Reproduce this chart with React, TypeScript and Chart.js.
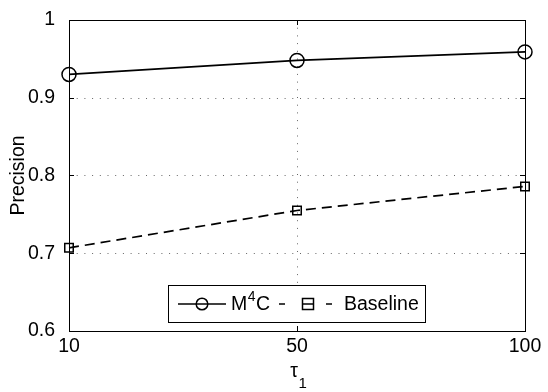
import React, { useEffect, useRef } from "react";
import { Chart, registerables } from "chart.js";
Chart.register(...registerables);

const categories = ["10", "50", "100"];
const m4cValues = [0.930, 0.948, 0.959];
const baselineValues = [0.707, 0.755, 0.786];
const yTicks = [0.6, 0.7, 0.8, 0.9, 1];
const seriesLabels = ["M\u2074C", "Baseline"];
const xTitleMain = "\u03c4";
const xTitleSub = "1";
const yTitle = "Precision";

const FONT = "'Liberation Sans', Arial, sans-serif";
const FS = 19.5;

// draw text where the superscript "⁴" is raised and smaller
function drawRich(ctx: any, text: string, x: number, y: number) {
  let cx = x;
  for (const ch of text) {
    if (ch === "\u2074") {
      ctx.font = "14px " + FONT;
      ctx.fillText("4", cx + 0.5, y - 8);
      cx += ctx.measureText("4").width + 1;
    } else {
      ctx.font = FS + "px " + FONT;
      ctx.fillText(ch, cx, y);
      cx += ctx.measureText(ch).width;
    }
  }
}

const frame = {
  id: "frame",
  beforeDatasetsDraw(chart: any) {
    const { ctx, chartArea: a, scales } = chart;
    const x = scales.x, y = scales.y;
    ctx.save();
    // dotted grid
    ctx.strokeStyle = "#666";
    ctx.lineWidth = 1;
    ctx.setLineDash([1, 6.7]);
    yTicks.forEach((v) => {
      if (v === 0.6 || v === 1) return;
      const py = Math.round(y.getPixelForValue(v)) + 0.5;
      ctx.beginPath(); ctx.moveTo(a.left, py); ctx.lineTo(a.right, py); ctx.stroke();
    });
    categories.forEach((c, i) => {
      if (i === 0 || i === categories.length - 1) return;
      const px = Math.round(x.getPixelForValue(i)) + 0.5;
      ctx.beginPath(); ctx.moveTo(px, a.top); ctx.lineTo(px, a.bottom); ctx.stroke();
    });
    ctx.setLineDash([]);
    ctx.strokeStyle = "#000";
    ctx.lineWidth = 1;
    // ticks inward
    yTicks.forEach((v) => {
      const py = Math.round(y.getPixelForValue(v)) + 0.5;
      ctx.beginPath(); ctx.moveTo(a.left, py); ctx.lineTo(a.left + 5, py); ctx.stroke();
      ctx.beginPath(); ctx.moveTo(a.right, py); ctx.lineTo(a.right - 5, py); ctx.stroke();
    });
    categories.forEach((c, i) => {
      const px = Math.round(x.getPixelForValue(i)) + 0.5;
      ctx.beginPath(); ctx.moveTo(px, a.bottom); ctx.lineTo(px, a.bottom - 5); ctx.stroke();
      ctx.beginPath(); ctx.moveTo(px, a.top); ctx.lineTo(px, a.top + 5); ctx.stroke();
    });
    // box
    ctx.strokeRect(Math.round(a.left) + 0.5, Math.round(a.top) + 0.5, Math.round(a.right - a.left), Math.round(a.bottom - a.top));
    // x title τ with subscript 1
    const mid = (a.left + a.right) / 2;
    ctx.fillStyle = "#000";
    ctx.textBaseline = "alphabetic";
    ctx.textAlign = "left";
    ctx.font = FS + "px " + FONT;
    const tw = ctx.measureText(xTitleMain).width;
    ctx.fillText(xTitleMain, mid - tw + 1, 377);
    ctx.font = "15px " + FONT;
    ctx.fillText(xTitleSub, mid + 1.5, 388);
    ctx.restore();
  },
  afterDatasetsDraw(chart: any) {
    const { ctx } = chart;
    const ds = chart.data.datasets;
    ctx.save();
    const bx = 168.5, by = 285.5, bw = 257, bh = 37;
    ctx.fillStyle = "#fff";
    ctx.fillRect(bx, by, bw, bh);
    ctx.strokeStyle = "#000";
    ctx.lineWidth = 1;
    ctx.strokeRect(bx, by, bw, bh);
    const cy = 304;
    ctx.fillStyle = "#000";
    ctx.textBaseline = "middle";
    ctx.textAlign = "left";
    // series 1
    ctx.lineWidth = 1.5;
    ctx.setLineDash([]);
    ctx.beginPath(); ctx.moveTo(178, cy); ctx.lineTo(226, cy); ctx.stroke();
    ctx.beginPath(); ctx.arc(202, cy, 5.8, 0, Math.PI * 2); ctx.stroke();
    drawRich(ctx, ds[0].label, 231, cy + 1);
    // series 2
    ctx.beginPath(); ctx.moveTo(279, cy); ctx.lineTo(285, cy); ctx.stroke();
    ctx.beginPath(); ctx.moveTo(326, cy); ctx.lineTo(332, cy); ctx.stroke();
    ctx.strokeRect(302.5, cy - 5.5, 11, 11);
    ctx.beginPath(); ctx.moveTo(302.5, cy); ctx.lineTo(313.5, cy); ctx.stroke();
    ctx.font = FS + "px " + FONT;
    ctx.fillText(ds[1].label, 344, cy + 1);
    ctx.restore();
  },
};

export default function App() {
  const ref = useRef<HTMLCanvasElement>(null);
  useEffect(() => {
    document.body.style.margin = "0";
    const chart = new Chart(ref.current!, {
      type: "line",
      data: {
        labels: categories,
        datasets: [
          {
            label: seriesLabels[0],
            data: m4cValues,
            borderColor: "#000",
            backgroundColor: "rgba(0,0,0,0)",
            borderWidth: 1.7,
            pointStyle: "circle",
            pointRadius: 7,
            pointBorderWidth: 1.5,
            pointBorderColor: "#000",
            pointBackgroundColor: "rgba(0,0,0,0)",
          },
          {
            label: seriesLabels[1],
            data: baselineValues,
            borderColor: "#000",
            backgroundColor: "rgba(0,0,0,0)",
            borderWidth: 1.7,
            borderDash: [10, 6],
            pointStyle: "rect",
            pointRadius: 6,
            pointBorderWidth: 1.5,
            pointBorderColor: "#000",
            pointBackgroundColor: "rgba(0,0,0,0)",
          },
        ],
      },
      options: {
        animation: false,
        responsive: false,
        layout: { padding: { top: 20, right: 23, left: 0, bottom: 0 } },
        plugins: { legend: { display: false }, tooltip: { enabled: false } },
        scales: {
          x: {
            type: "category",
            offset: false,
            grid: { display: false },
            border: { display: false },
            ticks: { color: "#000", font: { family: FONT, size: FS }, padding: -4, maxRotation: 0, autoSkip: false },
            afterFit: (s: any) => { s.height = 61; },
          },
          y: {
            min: 0.6,
            max: 1,
            grid: { display: false },
            border: { display: false },
            afterBuildTicks: (s: any) => { s.ticks = yTicks.map((v) => ({ value: v })); },
            ticks: {
              color: "#000",
              font: { family: FONT, size: FS },
              padding: 6,
              callback: (v: any) => String(v),
            },
            title: { display: true, text: yTitle, color: "#000", font: { family: FONT, size: FS }, padding: { top: 7, bottom: 3 } },
            afterFit: (s: any) => { s.width = 69; },
          },
        },
      },
      plugins: [frame],
    });
    return () => chart.destroy();
  }, []);
  return (
    <div style={{ position: "absolute", left: 0, top: 0, width: 548, height: 392, background: "#fff" }}>
      <canvas ref={ref} width={548} height={392} />
    </div>
  );
}
